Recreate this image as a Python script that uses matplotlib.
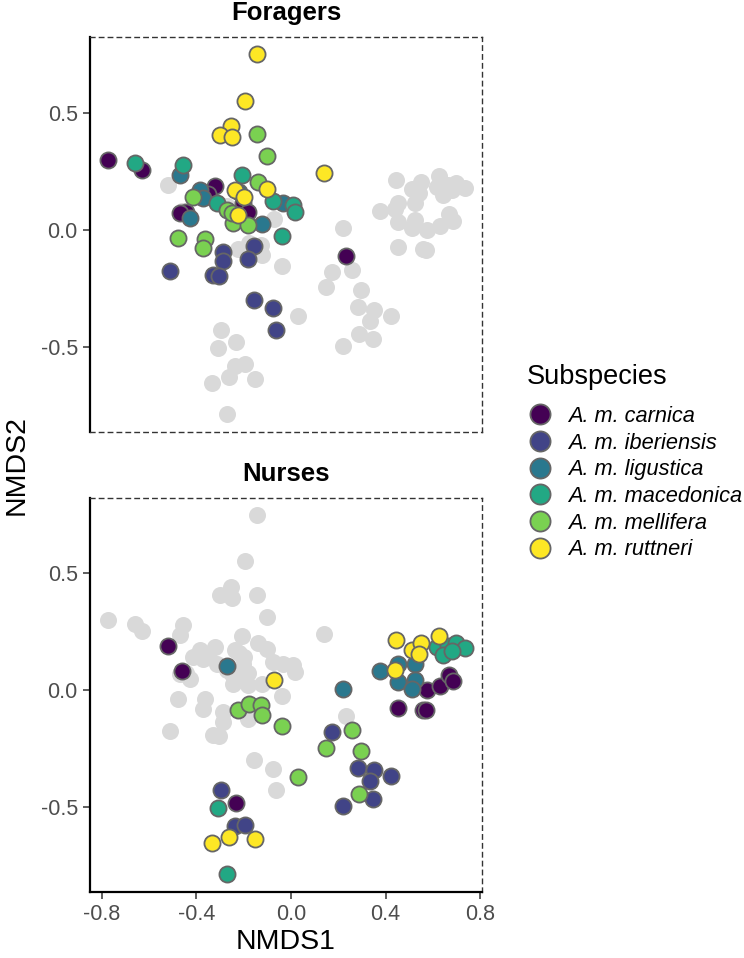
import matplotlib
matplotlib.use("Agg")
import matplotlib.pyplot as plt
from matplotlib.lines import Line2D

plt.rcParams['font.family'] = ['Liberation Sans', 'DejaVu Sans']

subspecies = ["A. m. carnica", "A. m. iberiensis", "A. m. ligustica",
              "A. m. macedonica", "A. m. mellifera", "A. m. ruttneri"]
colours = ["#440154", "#414487", "#2A788E", "#22A884", "#7AD151", "#FDE725"]

# Foragers: subspecies index, NMDS1, NMDS2
forager_group = [0, 0, 0, 0, 0, 0, 0, 0, 0,
                 1, 1, 1, 1, 1, 1, 1, 1, 1, 1,
                 2, 2, 2, 2, 2, 2, 2,
                 3, 3, 3, 3, 3, 3, 3, 3,
                 4, 4, 4, 4, 4, 4, 4, 4, 4, 4, 4,
                 5, 5, 5, 5, 5, 5, 5, 5, 5, 5]
forager_x = [-0.772, -0.631, -0.321, -0.35, -0.444, -0.47, -0.204, -0.18, 0.231,
             -0.512, -0.289, -0.289, -0.328, -0.303, -0.155, -0.18, -0.156, -0.077, -0.063,
             -0.469, -0.385, -0.371, -0.427, -0.124, -0.033, -0.22,
             -0.66, -0.455, -0.208, -0.314, -0.075, 0.01, 0.017, -0.04,
             -0.142, -0.10, -0.138, -0.413, -0.272, -0.244, -0.18, -0.476, -0.364, -0.373, -0.25,
             -0.145, -0.195, -0.255, -0.30, -0.251, 0.14, -0.10, -0.237, -0.20, -0.223]
forager_y = [0.299, 0.254, 0.185, 0.154, 0.076, 0.071, 0.114, 0.076, -0.11,
             -0.174, -0.093, -0.135, -0.192, -0.197, -0.067, -0.124, -0.299, -0.335, -0.427,
             0.235, 0.171, 0.135, 0.05, 0.026, 0.114, 0.16,
             0.285, 0.278, 0.232, 0.114, 0.121, 0.107, 0.078, -0.026,
             0.409, 0.313, 0.202, 0.142, 0.085, 0.028, 0.021, -0.036, -0.038, -0.078, 0.07,
             0.748, 0.551, 0.441, 0.406, 0.394, 0.242, 0.175, 0.171, 0.142, 0.064]

# Nurses: subspecies index, NMDS1, NMDS2
nurse_group = [0, 0, 0, 0, 0, 0, 0, 0, 0, 0,
               1, 1, 1, 1, 1, 1, 1, 1, 1, 1,
               2, 2, 2, 2, 2, 2, 2, 2,
               3, 3, 3, 3, 3, 3, 3, 3,
               4, 4, 4, 4, 4, 4, 4, 4, 4, 4,
               5, 5, 5, 5, 5, 5, 5, 5, 5, 5]
nurse_x = [-0.519, -0.462, -0.234, 0.574, 0.63, 0.669, 0.687, 0.454, 0.557, 0.571,
           -0.296, -0.237, -0.195, 0.172, 0.285, 0.351, 0.421, 0.334, 0.348, 0.221,
           -0.269, 0.221, 0.376, 0.454, 0.524, 0.451, 0.524, 0.51,
           -0.307, -0.272, 0.616, 0.665, 0.70, 0.736, 0.644, 0.679,
           -0.223, -0.178, -0.127, -0.124, -0.04, 0.031, 0.259, 0.147, 0.295, 0.289,
           -0.072, -0.335, -0.262, -0.152, 0.444, 0.513, 0.55, 0.543, 0.626, 0.44]
nurse_y = [0.191, 0.082, -0.48, 0.0, 0.017, 0.067, 0.038, -0.074, -0.082, -0.085,
           -0.428, -0.582, -0.574, -0.18, -0.331, -0.34, -0.366, -0.387, -0.464, -0.494,
           0.103, 0.007, 0.081, 0.114, 0.114, 0.035, 0.043, 0.007,
           -0.503, -0.787, 0.184, 0.191, 0.201, 0.18, 0.149, 0.17,
           -0.082, -0.057, -0.064, -0.106, -0.153, -0.369, -0.17, -0.245, -0.258, -0.443,
           0.045, -0.652, -0.628, -0.634, 0.213, 0.173, 0.203, 0.156, 0.231, 0.088]

W, H = 744, 958
fig = plt.figure(figsize=(W / 100, H / 100), dpi=100)

ax_f = fig.add_axes([90 / W, 1 - 432 / H, 392 / W, 395 / H])
ax_n = fig.add_axes([90 / W, 1 - 892 / H, 392 / W, 394 / H])

panels = [
    (ax_f, "Foragers", forager_group, forager_x, forager_y, nurse_x, nurse_y),
    (ax_n, "Nurses", nurse_group, nurse_x, nurse_y, forager_x, forager_y),
]

for ax, title, grp, xs, ys, gx, gy in panels:
    # the other caste in grey behind
    ax.scatter(gx, gy, s=150, color="#D9D9D9", linewidths=0, zorder=1)
    for i, g in enumerate(grp):
        ax.scatter(xs[i], ys[i], s=135, color=colours[g],
                   edgecolors="#666666", linewidths=1.3, zorder=2)

    ax.set_xlim(-0.85, 0.808)
    ax.set_ylim(-0.862, 0.822)
    ax.set_yticks([-0.5, 0.0, 0.5])
    ax.set_yticklabels(["-0.5", "0.0", "0.5"])
    ax.set_xticks([-0.8, -0.4, 0.0, 0.4, 0.8])
    ax.set_xticklabels(["-0.8", "-0.4", "0.0", "0.4", "0.8"])
    ax.tick_params(colors="#333333", labelcolor="#4D4D4D", labelsize=15.5,
                   length=4.8, width=1.1, pad=4)
    ax.set_title(title, fontsize=18.5, fontweight="bold", pad=12)

    for side in ["top", "right", "bottom"]:
        ax.spines[side].set_linestyle((0, (3.2, 3.2)))
        ax.spines[side].set_linewidth(1.0)
        ax.spines[side].set_color("#333333")
    ax.spines["left"].set_linewidth(1.6)
    ax.spines["left"].set_color("black")

ax_f.tick_params(axis="x", bottom=False, labelbottom=False)
ax_n.spines["bottom"].set_linestyle("solid")
ax_n.spines["bottom"].set_linewidth(1.6)
ax_n.spines["bottom"].set_color("black")
ax_n.set_xlabel("NMDS1", fontsize=20.5, labelpad=3)

fig.text(17 / W, 1 - 465 / H, "NMDS2", rotation=90, fontsize=20.5,
         ha="center", va="center")

# legend: title drawn separately so the gap below it can match
fig.text(527 / W, 1 - 377 / H, "Subspecies", fontsize=19.5,
         ha="left", va="center")
handles = [Line2D([], [], ls="", marker="o", markersize=14.5,
                  markerfacecolor=c, markeredgecolor="#666666",
                  markeredgewidth=1.3) for c in colours]
leg = fig.legend(handles, subspecies, loc="upper left",
                 bbox_to_anchor=(527 / W, 1 - 406 / H), frameon=False,
                 borderpad=0, borderaxespad=0, labelspacing=0.26,
                 handletextpad=0.7, handlelength=1.2,
                 prop={"style": "italic", "size": 15.7})

fig.savefig("out.png", dpi=100)
